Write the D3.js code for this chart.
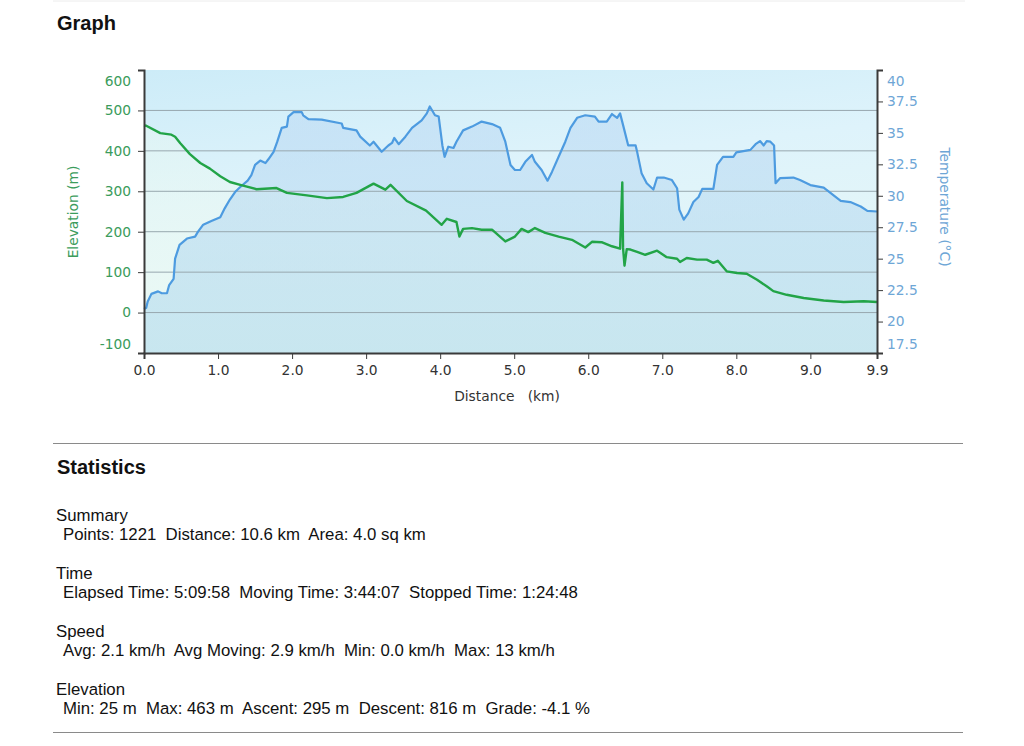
<!DOCTYPE html>
<html>
<head>
<meta charset="utf-8">
<script src="https://cdn.jsdelivr.net/npm/d3@7"></script>
<style>
  body { margin: 0; background: #fff; }
  .axis path, .axis line { stroke: #3a3a3a; }
  .axis text { font-family: "DejaVu Sans", Verdana, sans-serif; font-size: 13.8px; }
</style>
</head>
<body>
<script>
/********************************************************/
// data
const elevKm = [0.00, 0.03, 0.22, 0.37, 0.42, 0.49, 0.62, 0.76, 0.89, 1.03, 1.16, 1.30, 1.52, 1.79, 1.93, 2.20, 2.47, 2.69, 2.87, 3.10, 3.26, 3.33, 3.55, 3.81, 4.02, 4.09, 4.22, 4.26, 4.31, 4.43, 4.56, 4.70, 4.88, 5.01, 5.10, 5.19, 5.28, 5.42, 5.60, 5.78, 5.96, 6.05, 6.18, 6.32, 6.43, 6.46, 6.47, 6.49, 6.52, 6.57, 6.66, 6.77, 6.93, 7.06, 7.20, 7.24, 7.33, 7.47, 7.60, 7.69, 7.75, 7.87, 8.01, 8.14, 8.28, 8.41, 8.50, 8.68, 8.91, 9.18, 9.45, 9.72, 9.90];
const elevM = [463, 462, 444, 440, 435, 419, 392, 370, 356, 337, 323, 316, 305, 308, 296, 290, 283, 286, 296, 319, 304, 316, 276, 252, 217, 232, 224, 188, 207, 209, 205, 205, 176, 188, 207, 199, 209, 197, 188, 180, 161, 175, 174, 164, 158, 322, 160, 116, 157, 156, 150, 143, 153, 137, 133, 125, 135, 131, 131, 123, 128, 102, 98, 96, 81, 65, 53, 44, 36, 30, 26, 28, 26];

const tempKm = [0.00, 0.03, 0.05, 0.10, 0.19, 0.24, 0.31, 0.34, 0.40, 0.42, 0.48, 0.58, 0.69, 0.73, 0.80, 0.91, 1.03, 1.09, 1.16, 1.23, 1.30, 1.40, 1.45, 1.50, 1.57, 1.64, 1.68, 1.75, 1.80, 1.86, 1.93, 1.95, 2.02, 2.13, 2.15, 2.22, 2.40, 2.67, 2.69, 2.87, 2.92, 3.05, 3.10, 3.21, 3.30, 3.35, 3.38, 3.44, 3.53, 3.62, 3.75, 3.82, 3.86, 3.93, 3.98, 4.03, 4.06, 4.11, 4.18, 4.22, 4.31, 4.43, 4.56, 4.70, 4.81, 4.88, 4.95, 5.01, 5.08, 5.15, 5.24, 5.28, 5.37, 5.45, 5.51, 5.60, 5.69, 5.76, 5.85, 5.96, 6.09, 6.14, 6.25, 6.32, 6.39, 6.43, 6.48, 6.54, 6.64, 6.66, 6.72, 6.79, 6.88, 6.93, 7.02, 7.13, 7.20, 7.23, 7.29, 7.35, 7.42, 7.49, 7.54, 7.69, 7.74, 7.82, 7.96, 8.00, 8.19, 8.26, 8.32, 8.37, 8.41, 8.46, 8.51, 8.53, 8.59, 8.77, 8.86, 9.00, 9.18, 9.31, 9.41, 9.54, 9.68, 9.77, 9.90];
const tempC = [21.0, 21.1, 21.6, 22.2, 22.4, 22.25, 22.25, 22.9, 23.4, 25.0, 26.1, 26.6, 26.75, 27.15, 27.7, 28.0, 28.3, 29.0, 29.7, 30.3, 30.7, 31.2, 31.65, 32.45, 32.8, 32.6, 32.9, 33.5, 34.3, 35.4, 35.5, 36.3, 36.65, 36.65, 36.4, 36.1, 36.05, 35.75, 35.4, 35.2, 34.7, 34.0, 34.3, 33.5, 34.0, 34.2, 34.6, 34.1, 34.7, 35.4, 36.0, 36.55, 37.1, 36.4, 36.3, 34.0, 33.1, 33.9, 33.8, 34.3, 35.2, 35.5, 35.9, 35.7, 35.4, 34.3, 32.45, 32.05, 32.05, 32.7, 33.25, 32.7, 32.05, 31.2, 31.9, 33.1, 34.3, 35.4, 36.2, 36.4, 36.3, 35.9, 35.9, 36.5, 36.2, 36.55, 35.4, 34.0, 34.0, 33.5, 31.8, 31.0, 30.5, 31.45, 31.45, 31.25, 30.6, 28.9, 28.1, 28.6, 29.5, 29.9, 30.55, 30.55, 32.45, 33.1, 33.1, 33.45, 33.65, 34.1, 34.35, 34.0, 34.35, 34.3, 34.0, 31.0, 31.4, 31.45, 31.25, 30.85, 30.65, 30.05, 29.6, 29.5, 29.15, 28.8, 28.75];

// tick labels
const distTicks = [0, 1, 2, 3, 4, 5, 6, 7, 8, 9, 9.9];
const elevTicks = [-100, 0, 100, 200, 300, 400, 500, 600];
const elevGrid = [0, 100, 200, 300, 400, 500];
const tempTicks = [17.5, 20, 22.5, 25, 27.5, 30, 32.5, 35, 37.5, 40];

// statistics text
const statHeads = ["Summary", "Time", "Speed", "Elevation"];
const statLines = [
  "Points: 1221  Distance: 10.6 km  Area: 4.0 sq km",
  "Elapsed Time: 5:09:58  Moving Time: 3:44:07  Stopped Time: 1:24:48",
  "Avg: 2.1 km/h  Avg Moving: 2.9 km/h  Min: 0.0 km/h  Max: 13 km/h",
  "Min: 25 m  Max: 463 m  Ascent: 295 m  Descent: 816 m  Grade: -4.1 %"
];

/********************************************************/
const svgWidth = 1024;
const svgHeight = 746;

const plot = { left: 144, right: 877, top: 70, bottom: 353 };

const elevColor = "#22a447";
const tempColor = "#4d9be0";
const elevText = "#3b9c5c";
const tempText = "#6ea6d6";

const svg = d3
  .select("body")
  .append("svg")
  .attr("width", svgWidth)
  .attr("height", svgHeight)
  .style("display", "block");

/************** gradients ************/
const defs = svg.append("defs");

const bgGrad = defs.append("linearGradient")
  .attr("id", "bgGrad").attr("x1", 0).attr("y1", 0).attr("x2", 0.3).attr("y2", 1);
bgGrad.append("stop").attr("offset", "0%").attr("stop-color", "#cdecf8");
bgGrad.append("stop").attr("offset", "45%").attr("stop-color", "#def3fb");
bgGrad.append("stop").attr("offset", "100%").attr("stop-color", "#e6f7f6");

const elevGrad = defs.append("linearGradient")
  .attr("id", "elevGrad").attr("x1", 0).attr("y1", 0).attr("x2", 0).attr("y2", 1);
elevGrad.append("stop").attr("offset", "0%").attr("stop-color", "#e8f8f2").attr("stop-opacity", 0.45);
elevGrad.append("stop").attr("offset", "100%").attr("stop-color", "#edfaf4").attr("stop-opacity", 0.85);

const tempGrad = defs.append("linearGradient")
  .attr("id", "tempGrad").attr("x1", 0).attr("y1", 0).attr("x2", 0).attr("y2", 1);
tempGrad.append("stop").attr("offset", "0%").attr("stop-color", "#bcd9f4").attr("stop-opacity", 0.55);
tempGrad.append("stop").attr("offset", "100%").attr("stop-color", "#b0daec").attr("stop-opacity", 0.6);

/************** page rules & headings ************/
svg.append("line")
  .attr("x1", 53).attr("x2", 965).attr("y1", 1).attr("y2", 1)
  .attr("stroke", "#ececec");

svg.append("text")
  .text("Graph")
  .attr("x", 57).attr("y", 30)
  .attr("font-family", "Liberation Sans, Arial, sans-serif")
  .attr("font-weight", "bold")
  .attr("font-size", "20px")
  .attr("fill", "#111");

/************** scales ************/
const xScale = d3.scaleLinear().domain([0, 9.9]).range([plot.left, plot.right]);
const yElev = d3.scaleLinear().domain([-100, 600]).range([plot.bottom, plot.top]);
const yTemp = d3.scaleLinear().domain([17.5, 40]).range([plot.bottom, plot.top]);

const elevData = elevKm.map((k, i) => ({ km: k, v: elevM[i] }));
const tempData = tempKm.map((k, i) => ({ km: k, v: tempC[i] }));

/************** plot background ************/
svg.append("rect")
  .attr("x", plot.left).attr("y", plot.top)
  .attr("width", plot.right - plot.left)
  .attr("height", plot.bottom - plot.top)
  .attr("fill", "url(#bgGrad)");

/************** areas ************/
const elevArea = d3.area()
  .x((d) => xScale(d.km))
  .y0(plot.bottom)
  .y1((d) => yElev(d.v));

const tempArea = d3.area()
  .x((d) => xScale(d.km))
  .y0(plot.bottom)
  .y1((d) => yTemp(d.v));

svg.append("path").attr("d", elevArea(elevData)).attr("fill", "url(#elevGrad)");
svg.append("path").attr("d", tempArea(tempData)).attr("fill", "url(#tempGrad)");

/************** grid lines ************/
svg.append("g")
  .selectAll("line")
  .data(elevGrid)
  .enter()
  .append("line")
  .attr("x1", plot.left).attr("x2", plot.right)
  .attr("y1", (d) => yElev(d)).attr("y2", (d) => yElev(d))
  .attr("stroke", "#97a7ae")
  .attr("stroke-width", 1);

/************** lines ************/
const tempLine = d3.line().x((d) => xScale(d.km)).y((d) => yTemp(d.v));
const elevLine = d3.line().x((d) => xScale(d.km)).y((d) => yElev(d.v));

svg.append("path")
  .attr("d", tempLine(tempData))
  .attr("fill", "none")
  .attr("stroke", tempColor)
  .attr("stroke-width", 2.2)
  .attr("stroke-linejoin", "round");

svg.append("path")
  .attr("d", elevLine(elevData))
  .attr("fill", "none")
  .attr("stroke", elevColor)
  .attr("stroke-width", 2.4)
  .attr("stroke-linejoin", "round");

/************** axes ************/
const bottomAxis = d3.axisBottom(xScale)
  .tickValues(distTicks)
  .tickFormat(d3.format(".1f"))
  .tickSizeOuter(0)
  .tickSize(6);

const leftAxis = d3.axisLeft(yElev)
  .tickValues(elevTicks)
  .tickFormat((d) => String(d))
  .tickSizeOuter(0)
  .tickSize(6);

const rightAxis = d3.axisRight(yTemp)
  .tickValues(tempTicks)
  .tickFormat((d) => String(d))
  .tickSizeOuter(0)
  .tickSize(6);

const gx = svg.append("g")
  .classed("axis", true)
  .attr("transform", `translate(0, ${plot.bottom})`)
  .call(bottomAxis);
gx.selectAll("text").attr("fill", "#333").attr("dy", "0.95em");
gx.select(".domain").attr("stroke-width", 2);

const gl = svg.append("g")
  .classed("axis", true)
  .attr("transform", `translate(${plot.left}, 0)`)
  .call(leftAxis);
gl.selectAll("text").attr("fill", elevText).attr("x", -13);
gl.select(".domain").attr("stroke-width", 2);

const gr = svg.append("g")
  .classed("axis", true)
  .attr("transform", `translate(${plot.right}, 0)`)
  .call(rightAxis);
gr.selectAll("text").attr("fill", tempText).attr("x", 10);
gr.select(".domain").attr("stroke-width", 2);

// keep end labels inside the axis span
gl.selectAll(".tick text").filter((d) => d === 600).attr("dy", "1.1em");
gl.selectAll(".tick text").filter((d) => d === -100).attr("dy", "-0.3em");
gr.selectAll(".tick text").filter((d) => d === 40).attr("dy", "1.1em");
gr.selectAll(".tick text").filter((d) => d === 17.5).attr("dy", "-0.3em");

/************** axis titles ************/
svg.append("text")
  .text("Distance   (km)")
  .style("white-space", "pre")
  .attr("x", 507).attr("y", 401)
  .attr("text-anchor", "middle")
  .attr("font-family", "DejaVu Sans, Verdana, sans-serif")
  .attr("font-size", "13.8px")
  .attr("fill", "#333");

svg.append("text")
  .text("Elevation (m)")
  .attr("transform", "translate(78, 212) rotate(-90)")
  .attr("text-anchor", "middle")
  .attr("font-family", "DejaVu Sans, Verdana, sans-serif")
  .attr("font-size", "13.8px")
  .attr("fill", elevText);

svg.append("text")
  .text("Temperature (°C)")
  .attr("transform", "translate(940, 207) rotate(90)")
  .attr("text-anchor", "middle")
  .attr("font-family", "DejaVu Sans, Verdana, sans-serif")
  .attr("font-size", "13.8px")
  .attr("fill", tempText);

/************** statistics block ************/
svg.append("line")
  .attr("x1", 53).attr("x2", 963).attr("y1", 443.5).attr("y2", 443.5)
  .attr("stroke", "#8a8a8a");

svg.append("text")
  .text("Statistics")
  .attr("x", 57).attr("y", 474)
  .attr("font-family", "Liberation Sans, Arial, sans-serif")
  .attr("font-weight", "bold")
  .attr("font-size", "20px")
  .attr("fill", "#111");

const stats = svg.append("g")
  .attr("font-family", "Liberation Sans, Arial, sans-serif")
  .attr("font-size", "16.8px")
  .attr("fill", "#111");

stats.selectAll(".head")
  .data(statHeads)
  .enter()
  .append("text")
  .classed("head", true)
  .text((d) => d)
  .attr("x", 56)
  .attr("y", (d, i) => 521 + i * 58);

stats.selectAll(".line")
  .data(statLines)
  .enter()
  .append("text")
  .classed("line", true)
  .text((d) => d)
  .style("white-space", "pre")
  .attr("x", 63)
  .attr("y", (d, i) => 540 + i * 58);

svg.append("line")
  .attr("x1", 53).attr("x2", 963).attr("y1", 732.5).attr("y2", 732.5)
  .attr("stroke", "#8a8a8a");
</script>
</body>
</html>
